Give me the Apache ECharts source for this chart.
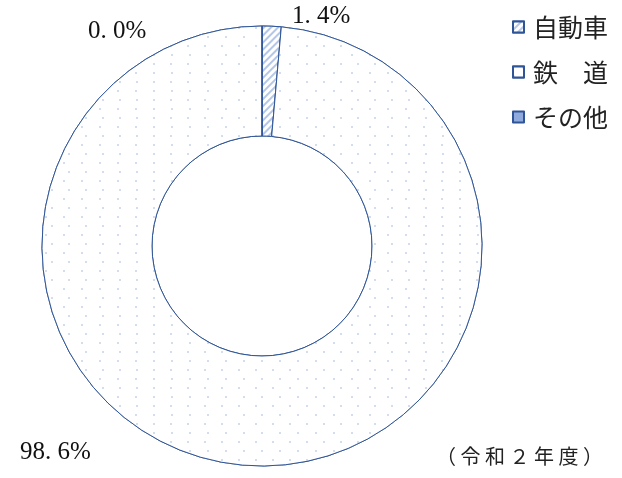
<!DOCTYPE html>
<html>
<head>
<meta charset="utf-8">
<script src="https://cdn.jsdelivr.net/npm/echarts@6/dist/echarts.min.js"></script>
<style>
  html, body { margin: 0; padding: 0; background: #ffffff; }
  #chart { width: 622px; height: 478px; }
</style>
</head>
<body>
<div id="chart"></div>
<script>
// Modal share (percent) by transport mode
const categories = ['自動車', '鉄　道', 'その他'];
const shares = [1.4, 98.6, 0.0];
const periodNote = '（ 令 和 ２ 年 度 ）';

const serif = '"Liberation Serif", "DejaVu Serif", serif';
const cjk = '"Noto Sans CJK JP", sans-serif';
const edge = '#2F5597';

// Fill styles per slice: hatched, staggered dots, solid
const sliceStyles = [
  {
    color: '#ffffff',
    decal: {
      symbol: 'rect', symbolSize: 1, color: '#B4C7E7', backgroundColor: '#ffffff',
      dashArrayX: [1, 0], dashArrayY: [2, 3], rotation: -Math.PI / 4
    }
  },
  {
    color: '#ffffff',
    decal: {
      symbol: 'rect', symbolSize: 1, color: '#D2DDEF', backgroundColor: '#ffffff',
      dashArrayX: [[2, 15], [0, 8.5, 2, 6.5]], dashArrayY: [2, 6.3], rotation: 0
    }
  },
  { color: '#8FAADC' }
];

// Where each percentage label sits (left edge, vertical middle)
const labelSpots = [[292, 16], [20, 452], [88, 31]];

const fmt = v => v.toFixed(1).replace('.', '. ') + '%';

const chart = echarts.init(document.getElementById('chart'), null, { renderer: 'canvas' });
chart.setOption({
  backgroundColor: '#ffffff',
  animation: false,
  legend: {
    orient: 'vertical',
    left: 507,
    top: 9,
    itemWidth: 11,
    itemHeight: 11,
    itemGap: 19,
    icon: 'rect',
    selectedMode: false,
    textStyle: { fontFamily: cjk, fontSize: 25, color: '#222', lineHeight: 26, padding: [0, 0, 0, 4] },
    data: categories
  },
  graphic: [{
    type: 'text',
    left: 436,
    top: 446,
    style: { text: periodNote, font: '20px ' + cjk, fill: '#222' }
  }],
  series: [{
    type: 'pie',
    center: [262, 246],
    radius: [110, 220],
    startAngle: 90,
    clockwise: true,
    avoidLabelOverlap: false,
    stillShowZeroSum: true,
    minShowLabelAngle: 0,
    itemStyle: { borderColor: edge, borderWidth: 1 },
    emphasis: { disabled: true },
    label: {
      show: true,
      formatter: p => fmt(p.value),
      fontFamily: serif,
      fontSize: 25,
      color: '#111'
    },
    labelLine: { show: false },
    labelLayout: p => ({
      x: labelSpots[p.dataIndex][0],
      y: labelSpots[p.dataIndex][1],
      align: 'left',
      verticalAlign: 'middle'
    }),
    data: categories.map((name, i) => ({
      name: name,
      value: shares[i],
      itemStyle: Object.assign({ borderColor: edge, borderWidth: 1 }, sliceStyles[i])
    }))
  }]
});
</script>
</body>
</html>
